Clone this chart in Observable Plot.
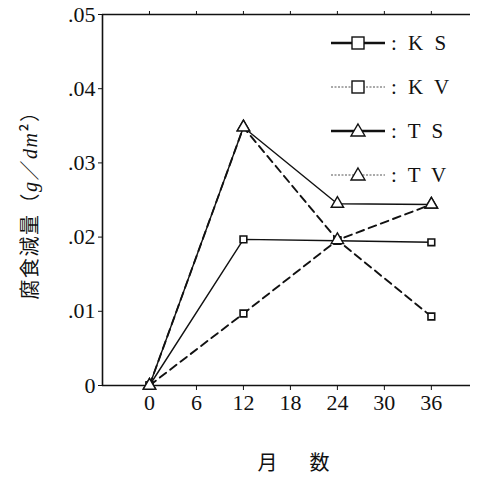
<!DOCTYPE html>
<html><head><meta charset="utf-8">
<script src="https://cdn.jsdelivr.net/npm/d3@7"></script>
<script src="https://cdn.jsdelivr.net/npm/@observablehq/plot@0.6"></script>
<style>
body{margin:0;background:#fff;}
#wrap{position:relative;width:478px;height:481px;overflow:hidden;}
.leg{position:absolute;left:331px;display:flex;align-items:center;font-family:"Liberation Serif",serif;font-size:21px;color:#111;height:24px;}
.leg span{margin-left:6px;letter-spacing:3px;}
</style></head><body><div id="wrap"></div>
<script>
const months = [0, 12, 24, 36];
const seriesNames = ["KS", "KV", "TS", "TV"];
const KS = [0, 0.0197, 0.0195, 0.0193];
const KV = [0, 0.0097, 0.0196, 0.0093];
const TS = [0, 0.0348, 0.0245, 0.0244];
const TV = [0, 0.0348, 0.0196, 0.0244];
const xTicks = [0, 6, 12, 18, 24, 30, 36];
const yTicks = [0, 0.01, 0.02, 0.03, 0.04, 0.05];
const legendLabels = [": K S", ": K V", ": T S", ": T V"];
const xLabel = "月　数";
const yLabel = "腐食減量（g／dm²）";

const valuesBy = {KS, KV, TS, TV};
const styleBy = {
  KS: {dashed: false, symbol: "square"},
  KV: {dashed: true, symbol: "square"},
  TS: {dashed: false, symbol: "triangle"},
  TV: {dashed: true, symbol: "triangle"}
};
const rows = seriesNames.flatMap(s => months.map((m, i) => ({series: s, month: m, value: valuesBy[s][i]})));
const solid = rows.filter(d => !styleBy[d.series].dashed);
const dashed = rows.filter(d => styleBy[d.series].dashed);
const squares = rows.filter(d => styleBy[d.series].symbol === "square");
const triangles = rows.filter(d => styleBy[d.series].symbol === "triangle");

const xDomain = [-6, 41];
const yDomain = [0, 0.05];
const ink = "#111";

const chart = Plot.plot({
  width: 478,
  height: 481,
  marginLeft: 102,
  marginRight: 8,
  marginTop: 14,
  marginBottom: 96,
  style: {fontFamily: "'Liberation Serif', serif", fontSize: "22px", color: ink, background: "#fff"},
  x: {domain: xDomain},
  y: {domain: yDomain},
  marks: [
    Plot.ruleY([yDomain[0]], {stroke: ink, strokeWidth: 1.6}),
    Plot.ruleY([yDomain[1]], {stroke: ink, strokeWidth: 1.6}),
    Plot.ruleX([xDomain[0]], {stroke: ink, strokeWidth: 1.6}),
    Plot.axisX({ticks: xTicks, tickSize: 5, tickPadding: 4, label: xLabel, labelAnchor: "center", labelArrow: "none", labelOffset: 84, fontSize: 22}),
    Plot.axisX({anchor: "top", ticks: xTicks, tickSize: 4, tickFormat: () => "", label: null}),
    Plot.axisY({ticks: yTicks, tickSize: 4, tickPadding: 3, tickFormat: d => d === 0 ? "0" : d3.format(".2f")(d).replace(/^0/, ""), label: yLabel, labelAnchor: "center", labelArrow: "none", labelOffset: 80, fontSize: 22}),
    Plot.line(solid, {x: "month", y: "value", z: "series", stroke: ink, strokeWidth: 1.4}),
    Plot.line(dashed, {x: "month", y: "value", z: "series", stroke: ink, strokeWidth: 1.9, strokeDasharray: "8,5"}),
    Plot.dot(squares, {x: "month", y: "value", symbol: "square", r: 3.8, fill: "white", stroke: ink, strokeWidth: 1.6}),
    Plot.dot(triangles, {x: "month", y: "value", symbol: "triangle", r: 4.6, fill: "white", stroke: ink, strokeWidth: 1.4})
  ]
});
document.getElementById("wrap").appendChild(chart);

// style the axis labels
const svg = d3.select(chart);
svg.selectAll('g[aria-label="x-axis label"] text').style("font-size", "20px").style("font-family", "'Noto Sans CJK JP', serif").style("letter-spacing", "6px").attr("dx", "10");
const yl = svg.select('g[aria-label="y-axis label"] text');
yl.style("font-size", "20px").style("font-family", "'Noto Sans CJK JP', serif").style("letter-spacing", "1.5px");
yl.text(null);
yl.append("tspan").text("腐食減量（");
yl.append("tspan").attr("font-style", "italic").attr("font-family", "'Liberation Serif', serif").text("g");
yl.append("tspan").text("／");
yl.append("tspan").attr("font-style", "italic").attr("font-family", "'Liberation Serif', serif").text("dm");
yl.append("tspan").text("²）");

// legend
const wrap = document.getElementById("wrap");
seriesNames.forEach((s, i) => {
  const st = styleBy[s];
  const div = document.createElement("div");
  div.className = "leg";
  div.style.top = (31 + i * 44) + "px";
  const sym = st.symbol === "square"
    ? `<rect x="21" y="4" width="12" height="12" fill="white" stroke="${ink}" stroke-width="1.4"/>`
    : `<path d="M27,3 L34,15 L20,15 Z" fill="white" stroke="${ink}" stroke-width="1.4"/>`;
  const line = st.dashed
    ? `<line x1="0" y1="10" x2="54" y2="10" stroke="#555" stroke-width="1" stroke-dasharray="2,1.5"/>`
    : `<line x1="0" y1="10" x2="54" y2="10" stroke="${ink}" stroke-width="2.4"/>`;
  div.innerHTML = `<svg width="54" height="20">${line}${sym}</svg><span>${legendLabels[i]}</span>`;
  wrap.appendChild(div);
});
</script>
</body></html>
